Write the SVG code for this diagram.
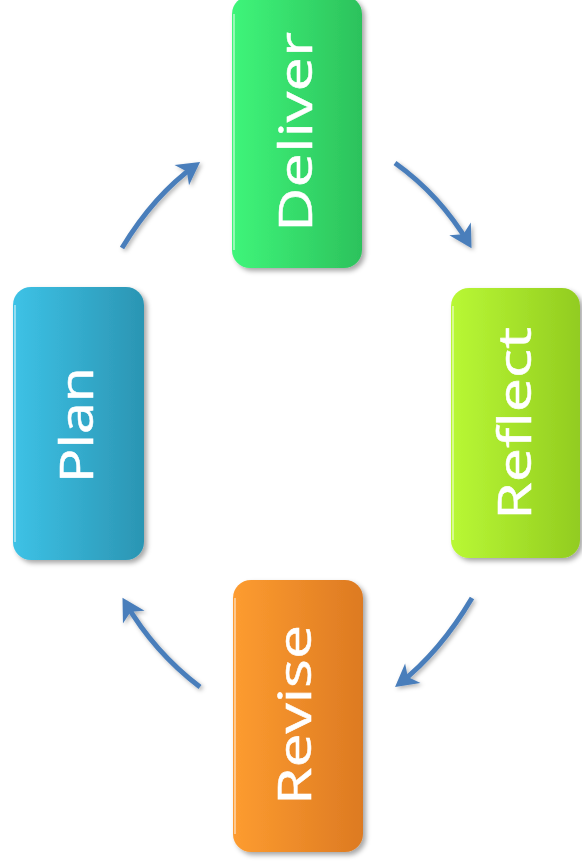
<svg xmlns="http://www.w3.org/2000/svg" width="582" height="867" viewBox="0 0 582 867">
<style>
.lbl{font-family:"Open Sans","DejaVu Sans",sans-serif;font-size:46px;fill:#ffffff;stroke:#ffffff;stroke-width:0.5}
.arr{fill:none;stroke:#4a7ebb;stroke-width:5;filter:url(#ash)}
.box{filter:url(#bsh)}
.hl{fill:none;stroke:#ffffff;stroke-opacity:0.45;stroke-width:2}
</style>
<defs>
<filter id="bsh" x="-10%" y="-10%" width="125%" height="125%">
<feDropShadow dx="3" dy="3" stdDeviation="2.5" flood-color="#000" flood-opacity="0.35"/>
</filter>
<filter id="ash" x="-30%" y="-30%" width="160%" height="160%">
<feDropShadow dx="2" dy="2" stdDeviation="2" flood-color="#000" flood-opacity="0.3"/>
</filter>
<linearGradient id="gG" x1="0" x2="1" y1="0" y2="0"><stop offset="0" stop-color="#3ff57a"/><stop offset="1" stop-color="#2cc25c"/></linearGradient>
<linearGradient id="gB" x1="0" x2="1" y1="0" y2="0"><stop offset="0" stop-color="#3dc2e6"/><stop offset="1" stop-color="#2b95b3"/></linearGradient>
<linearGradient id="gY" x1="0" x2="1" y1="0" y2="0"><stop offset="0" stop-color="#b9f835"/><stop offset="1" stop-color="#92cc20"/></linearGradient>
<linearGradient id="gO" x1="0" x2="1" y1="0" y2="0"><stop offset="0" stop-color="#fd9c30"/><stop offset="1" stop-color="#dd7a22"/></linearGradient>
<marker id="ah" markerUnits="userSpaceOnUse" markerWidth="30" markerHeight="30" viewBox="-16 -12 22 24" refX="0" refY="0" orient="auto">
<path d="M-14,-10 L4,0 L-14,10 L-9,0 z" fill="#4a7ebb"/>
</marker>
</defs>
<g id="connectors">
<path class="arr" d="M122,248 Q154,195 196,165" marker-end="url(#ah)"/>
<path class="arr" d="M395,163 Q440,195 469,244" marker-end="url(#ah)"/>
<path class="arr" d="M472,598 Q440,652 399,684" marker-end="url(#ah)"/>
<path class="arr" d="M200,687 Q154,652 125,602" marker-end="url(#ah)"/>
</g>
<g id="deliver">
<rect class="box" x="232" y="-4" width="130" height="272" rx="18" fill="url(#gG)"/>
<path class="hl" d="M234,14 V250"/>
<text class="lbl" transform="translate(312,232) rotate(-90)" textLength="200" lengthAdjust="spacingAndGlyphs">Deliver</text>
</g>
<g id="plan">
<rect class="box" x="13" y="287" width="131" height="273" rx="18" fill="url(#gB)"/>
<path class="hl" d="M15,305 V542"/>
<text class="lbl" transform="translate(93,483) rotate(-90)" textLength="116" lengthAdjust="spacingAndGlyphs">Plan</text>
</g>
<g id="reflect">
<rect class="box" x="451" y="288" width="129" height="270" rx="18" fill="url(#gY)"/>
<path class="hl" d="M453,306 V540"/>
<text class="lbl" transform="translate(531,520) rotate(-90)" textLength="193" lengthAdjust="spacingAndGlyphs">Reflect</text>
</g>
<g id="revise">
<rect class="box" x="233" y="580" width="130" height="272" rx="18" fill="url(#gO)"/>
<path class="hl" d="M235,598 V834"/>
<text class="lbl" transform="translate(311,805) rotate(-90)" textLength="180" lengthAdjust="spacingAndGlyphs">Revise</text>
</g>
</svg>
